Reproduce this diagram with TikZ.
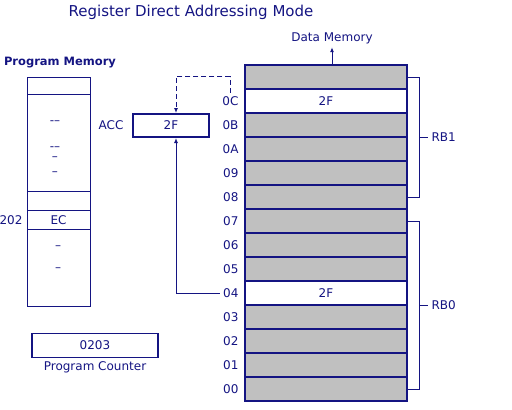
\documentclass[tikz,border=0pt]{standalone}
\usepackage{fontspec}
\setmainfont{DejaVu Sans}
\usetikzlibrary{arrows.meta,positioning,calc}
\definecolor{navy}{RGB}{20,20,130}
\definecolor{cellgray}{RGB}{192,192,192}

\begin{document}
\begin{tikzpicture}[x=1pt,y=1pt,node distance=0pt,
  every node/.style={font=\fontsize{12}{14}\selectfont,text=navy},
  cell/.style={draw=navy,line width=2pt,fill=cellgray,minimum width=162pt,minimum height=24pt,inner sep=0pt,outer sep=0pt},
  hot/.style={cell,fill=white},
  pmrow/.style={draw=navy,line width=1pt,minimum width=63pt,inner sep=0pt,outer sep=0pt},
  dashmark/.style={inner sep=0pt,align=center,font=\fontsize{12}{10}\selectfont},
  bracket/.style={draw=navy,line width=1pt},
  link/.style={draw=navy,line width=1pt,-{Latex[length=5pt,width=4pt]}}]
\useasboundingbox (0,0) rectangle (512,-410);

\node[font=\fontsize{15}{17}\selectfont] (title) at (191,-12) {Register Direct Addressing Mode};

% data memory
\node[cell,anchor=north west] (rtop) at (245,-65) {};
\node[hot,below=of rtop] (r0C) {2F};
\node[cell,below=of r0C] (r0B) {};
\node[cell,below=of r0B] (r0A) {};
\node[cell,below=of r0A] (r09) {};
\node[cell,below=of r09] (r08) {};
\node[cell,below=of r08] (r07) {};
\node[cell,below=of r07] (r06) {};
\node[cell,below=of r06] (r05) {};
\node[hot,below=of r05] (r04) {2F};
\node[cell,below=of r04] (r03) {};
\node[cell,below=of r03] (r02) {};
\node[cell,below=of r02] (r01) {};
\node[cell,below=of r01] (r00) {};
\foreach \r in {0C,0B,0A,09,08,07,06,05,04,03,02,01,00}
  \node[left=3pt of r\r] (l\r) {\r};

\node (dmem) at (332,-38) {Data Memory};
\draw[link] (rtop.north -| dmem.south) -- (dmem.south);

% register banks
\draw[bracket] (rtop.east) -- ++(12,0) |- (r08.east);
\draw[bracket] (r07.east) -- ++(12,0) |- (r00.east);
\coordinate (b1) at ($(rtop.east)!0.5!(r08.east)+(12,0)$);
\coordinate (b0) at ($(r07.east)!0.5!(r00.east)+(12,0)$);
\node[anchor=west] (rb1) at ($(b1)+(9,0)$) {RB1};
\node[anchor=west] (rb0) at ($(b0)+(9,0)$) {RB0};
\draw[bracket] (b1) -- (rb1.west);
\draw[bracket] (b0) -- (rb0.west);

% accumulator
\node[draw=navy,line width=2pt,minimum width=76pt,minimum height=23pt,inner sep=0pt] (acc) at (171,-125.5) {2F};
\node[left=5pt of acc] (acclbl) {ACC};
\draw[link,dash pattern=on 5pt off 3pt] (l0C.north) -- ++(0,16) -| ([xshift=5pt]acc.north);
\draw[link] (l04.west) -| ([xshift=5pt]acc.south);

% program memory
\node[font=\bfseries\fontsize{11.5}{13}\selectfont] (pmem) at (60,-63) {Program Memory};
\node[pmrow,minimum height=17pt,anchor=north west] (pm1) at (27,-77) {};
\node[pmrow,minimum height=97pt,below=of pm1] (pm2) {};
\node[pmrow,minimum height=19.5pt,below=of pm2] (pm3) {};
\node[pmrow,minimum height=19pt,below=of pm3] (pm4) {EC};
\node[pmrow,minimum height=77pt,below=of pm4] (pm5) {};
\node[left=1pt of pm4] (pcaddr) {202};
\node[dashmark] (d1) at (55,-123) {-–};
\node[dashmark] (d2) at (55,-154) {-–\\–};
\node[dashmark] (d4) at (55,-174) {–};
\node[dashmark] (d5) at (58,-248) {–};
\node[dashmark] (d6) at (58,-270) {–};

% program counter
\node[draw=navy,line width=1.5pt,minimum width=126pt,minimum height=24pt,inner sep=0pt] (pc) at (95,-345.5) {0203};
\node[below=0pt of pc] (pclbl) {Program Counter};
\end{tikzpicture}
\end{document}
